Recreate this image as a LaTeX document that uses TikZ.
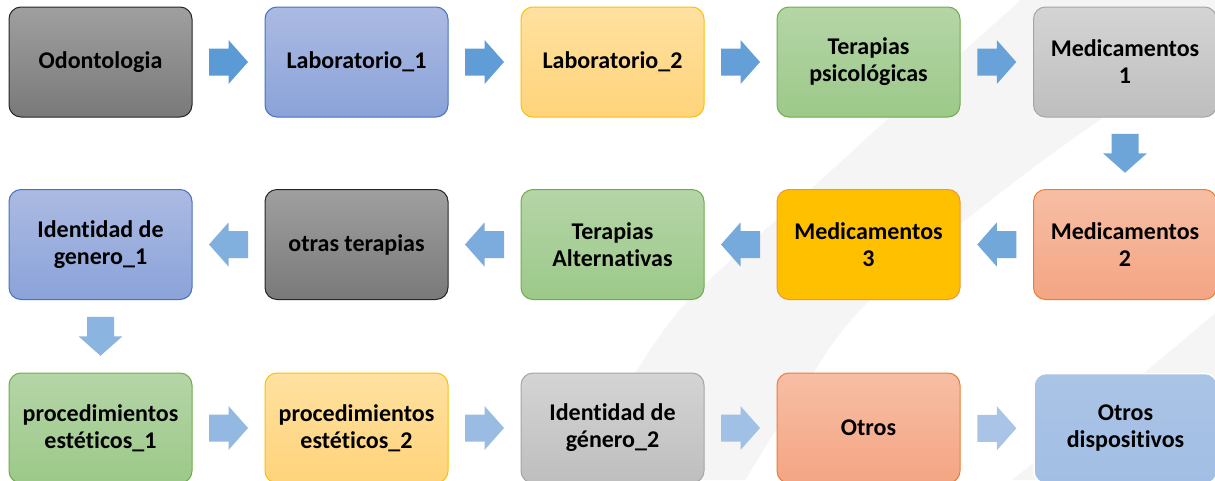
\documentclass[tikz,border=0pt]{standalone}
\usepackage{fontspec}
\setmainfont{Carlito}[Ligatures=NoCommon]
\usetikzlibrary{calc}
\definecolor{bandgray}{HTML}{F5F5F5}
\definecolor{arA}{HTML}{5B9BD5}
\definecolor{arB}{HTML}{A9C4E7}
\tikzset{
  box/.style={draw, rounded corners=12pt, line width=1pt, minimum width=183pt, minimum height=110pt,
    inner sep=2pt, align=center, font=\fontsize{24}{27}\selectfont\bfseries, text=black},
  dgray/.style={box, top color=gray!75, bottom color=gray!95!black, draw=black!85},
  lblue/.style={box, top color={rgb,255:red,171;green,186;blue,226}, bottom color={rgb,255:red,139;green,163;blue,217}, draw={rgb,255:red,68;green,114;blue,196}},
  lyellow/.style={box, top color={rgb,255:red,255;green,225;blue,160}, bottom color={rgb,255:red,255;green,211;blue,122}, draw={rgb,255:red,255;green,192;blue,0}},
  lgreen/.style={box, top color={rgb,255:red,181;green,213;blue,167}, bottom color={rgb,255:red,156;green,201;blue,137}, draw={rgb,255:red,112;green,173;blue,71}},
  lgray/.style={box, top color={rgb,255:red,212;green,212;blue,212}, bottom color={rgb,255:red,190;green,190;blue,190}, draw={rgb,255:red,165;green,165;blue,165}},
  lorange/.style={box, top color={rgb,255:red,247;green,190;blue,165}, bottom color={rgb,255:red,244;green,165;blue,131}, draw={rgb,255:red,237;green,125;blue,49}},
  gold/.style={box, fill={rgb,255:red,255;green,192;blue,0}, draw={rgb,255:red,240;green,150;blue,50}},
  pblue/.style={box, top color={rgb,255:red,170;green,196;blue,230}, bottom color={rgb,255:red,162;green,190;blue,228}, draw=white, line width=1.5pt},
  pics/rarrow/.style={code={\fill[#1] (-19.5,-13.5) -- (0,-13.5) -- (0,-22) -- (19.5,0) -- (0,22) -- (0,13.5) -- (-19.5,13.5) -- cycle;}},
  pics/larrow/.style={code={\fill[#1] (19.5,-13.5) -- (0,-13.5) -- (0,-22) -- (-19.5,0) -- (0,22) -- (0,13.5) -- (19.5,13.5) -- cycle;}},
  pics/darrow/.style={code={\fill[#1] (-13.5,-19.5) -- (13.5,-19.5) -- (13.5,0) -- (22,0) -- (0,19.5) -- (-22,0) -- (-13.5,0) -- cycle;}},
}
\begin{document}
\begin{tikzpicture}[x=1pt, y=-1pt]
\useasboundingbox (0,0) rectangle (1215,480);
\clip (0,0) rectangle (1215,480);
\fill[white] (0,0) rectangle (1215,480);
% background bands
\fill[bandgray] plot[smooth] coordinates {(1021,0) (890,117) (810,190) (686,303) (623,393) (575,480)}
  -- (745,480) -- plot[smooth] coordinates {(745,480) (800,393) (867,303) (1030,170) (1215,40)} -- (1215,0) -- cycle;
\fill[bandgray] plot[smooth] coordinates {(1225,305) (1120,393) (1012,480)} -- (1215,480) -- cycle;
% row 1
\node[dgray]   (n1)  at (100.5,62) {Odontologia};
\node[lblue]   (n2)  at (356.5,62) {Laboratorio\_1};
\node[lyellow] (n3)  at (612.5,62) {Laboratorio\_2};
\node[lgreen]  (n4)  at (868.5,62) {Terapias\\psicológicas};
\node[lgray]   (n5)  at (1125,62) {Medicamentos\\1};
% row 2
\node[lorange] (n6)  at (1125,244.5) {Medicamentos\\2};
\node[gold]    (n7)  at (868.5,244.5) {Medicamentos\\3};
\node[lgreen]  (n8)  at (612.5,244.5) {Terapias\\Alternativas};
\node[dgray]   (n9)  at (356.5,244.5) {otras terapias};
\node[lblue]   (n10) at (100.5,244.5) {Identidad de\\genero\_1};
% row 3
\node[lgreen]  (n11) at (100.5,428) {procedimientos\\estéticos\_1};
\node[lyellow] (n12) at (356.5,428) {procedimientos\\estéticos\_2};
\node[lgray]   (n13) at (612.5,428) {Identidad de\\género\_2};
\node[lorange] (n14) at (868.5,428) {Otros};
\node[pblue]   (n15) at (1125.5,428.5) {Otros\\dispositivos};
% arrows
\pic at ($(n1.east)!0.5!(n2.west)$) {rarrow=arB!0!arA};
\pic at ($(n2.east)!0.5!(n3.west)$) {rarrow=arB!6!arA};
\pic at ($(n3.east)!0.5!(n4.west)$) {rarrow=arB!12!arA};
\pic at ($(n4.east)!0.5!(n5.west)$) {rarrow=arB!18!arA};
\pic at ($(n5.south)!0.5!(n6.north)$) {darrow=arB!24!arA};
\pic at ($(n6.west)!0.5!(n7.east)$) {larrow=arB!30!arA};
\pic at ($(n7.west)!0.5!(n8.east)$) {larrow=arB!36!arA};
\pic at ($(n8.west)!0.5!(n9.east)$) {larrow=arB!42!arA};
\pic at ($(n9.west)!0.5!(n10.east)$) {larrow=arB!48!arA};
\pic at ($(n10.south)!0.5!(n11.north)$) {darrow=arB!62!arA};
\pic at ($(n11.east)!0.5!(n12.west)$) {rarrow=arB!72!arA};
\pic at ($(n12.east)!0.5!(n13.west)$) {rarrow=arB!80!arA};
\pic at ($(n13.east)!0.5!(n14.west)$) {rarrow=arB!90!arA};
\pic at ($(n14.east)!0.5!(n15.west)$) {rarrow=arB!100!arA};
\end{tikzpicture}
\end{document}
